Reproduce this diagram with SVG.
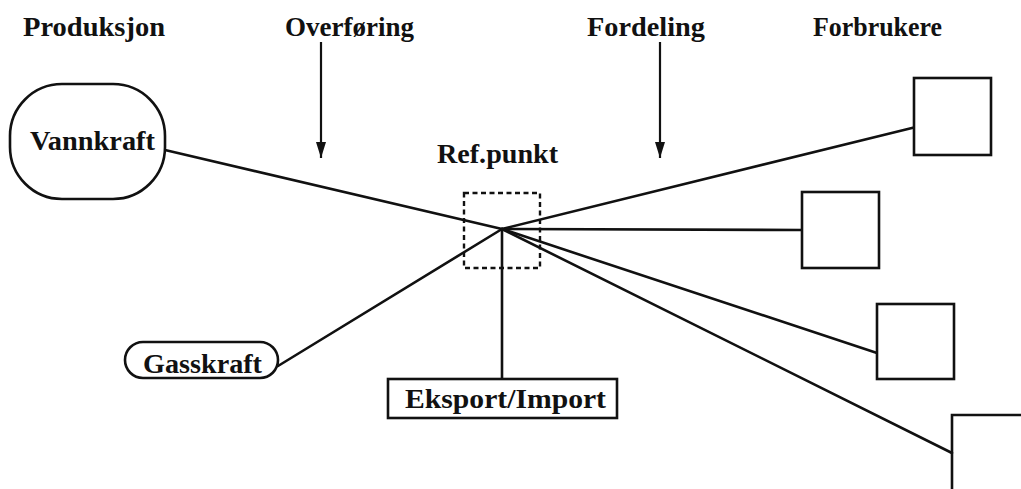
<svg xmlns="http://www.w3.org/2000/svg" width="1021" height="489" viewBox="0 0 1021 489">
  <style>
    .lbl { font-family: "Liberation Serif", "DejaVu Serif", serif; font-weight: bold; font-size: 27px; fill: #111; }
    .shape { fill: #fff; stroke: #111; stroke-width: 2.6; }
    .wire { fill: none; stroke: #111; stroke-width: 2.6; stroke-linecap: round; }
    .pointer { fill: none; stroke: #111; stroke-width: 2.2; }
    .dash { fill: none; stroke: #111; stroke-width: 2.4; stroke-dasharray: 5 3.5; }
  </style>
  <defs>
    <marker id="head" viewBox="0 0 16 10" refX="16" refY="5" markerWidth="16" markerHeight="10" markerUnits="userSpaceOnUse" orient="auto">
      <path d="M0 0 L16 5 L0 10 Z" fill="#111"/>
    </marker>
  </defs>
  <rect width="1021" height="489" fill="#fff"/>

  <!-- column headings -->
  <g id="headings">
    <text class="lbl" x="23" y="36" textLength="142" lengthAdjust="spacingAndGlyphs">Produksjon</text>
    <text class="lbl" x="285" y="36" textLength="129" lengthAdjust="spacingAndGlyphs">Overføring</text>
    <text class="lbl" x="587" y="36" textLength="118" lengthAdjust="spacingAndGlyphs">Fordeling</text>
    <text class="lbl" x="813" y="36" textLength="129" lengthAdjust="spacingAndGlyphs">Forbrukere</text>
  </g>

  <!-- connectors -->
  <g id="connectors">
    <line class="pointer" x1="321" y1="42" x2="321" y2="158" style="marker-end:url(#head)"/>
    <line class="pointer" x1="660" y1="42" x2="660" y2="158" style="marker-end:url(#head)"/>
    <line class="wire" x1="165" y1="150" x2="502" y2="229"/>
    <line class="wire" x1="278" y1="366" x2="502" y2="229"/>
    <line class="wire" x1="502" y1="229" x2="502" y2="379"/>
    <line class="wire" x1="502" y1="229" x2="916" y2="127"/>
    <line class="wire" x1="502" y1="229" x2="802" y2="230"/>
    <line class="wire" x1="502" y1="229" x2="877" y2="353"/>
    <line class="wire" x1="502" y1="229" x2="952" y2="453"/>
  </g>

  <g id="vannkraft">
    <rect class="shape" x="10" y="84" width="155" height="115" rx="52" ry="52"/>
    <text class="lbl" x="30" y="150" textLength="125" lengthAdjust="spacingAndGlyphs">Vannkraft</text>
  </g>

  <g id="gasskraft">
    <rect class="shape" x="125" y="342" width="153" height="36" rx="18" ry="18"/>
    <text class="lbl" x="143" y="373" textLength="119" lengthAdjust="spacingAndGlyphs">Gasskraft</text>
  </g>

  <g id="refpunkt">
    <rect class="dash" x="464" y="193" width="76" height="75"/>
    <text class="lbl" x="437" y="163" textLength="121" lengthAdjust="spacingAndGlyphs">Ref.punkt</text>
  </g>

  <g id="eksport-import">
    <rect class="shape" x="388" y="379" width="229" height="39"/>
    <text class="lbl" x="405" y="408" textLength="201" lengthAdjust="spacingAndGlyphs">Eksport/Import</text>
  </g>

  <g id="forbruker-1">
    <rect class="shape" x="914" y="78" width="77" height="77"/>
  </g>
  <g id="forbruker-2">
    <rect class="shape" x="802" y="192" width="77" height="76"/>
  </g>
  <g id="forbruker-3">
    <rect class="shape" x="877" y="304" width="77" height="75"/>
  </g>
  <g id="forbruker-4">
    <path class="wire" d="M952 495 L952 415 L1025 415"/>
  </g>
</svg>
